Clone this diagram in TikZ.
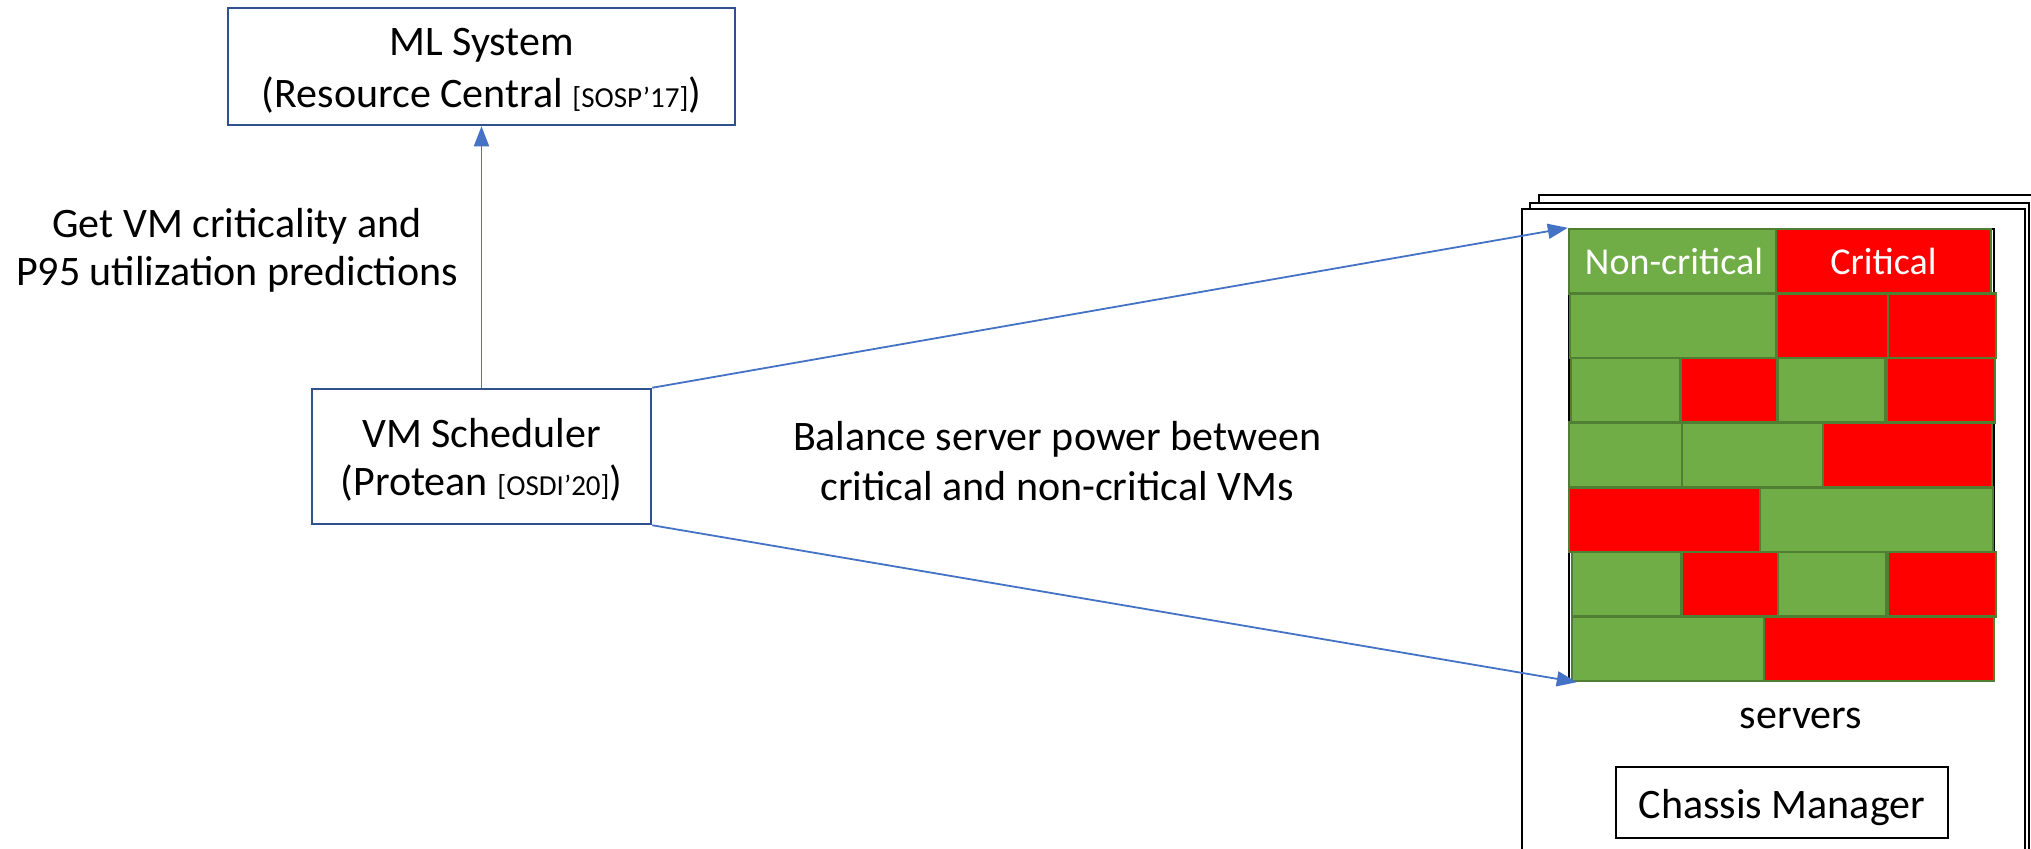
\documentclass[tikz,border=0pt]{standalone}
\usepackage{fontspec}
\setmainfont{Carlito}
\usetikzlibrary{arrows.meta}
\definecolor{arrowblue}{HTML}{4472C4}
\definecolor{boxblue}{HTML}{2F528F}
\definecolor{vmgreen}{HTML}{70AD47}
\definecolor{vmgreenline}{HTML}{507E32}
\definecolor{vmred}{HTML}{FF0000}
\begin{document}
\begin{tikzpicture}[x=0.5pt,y=-0.5pt,
  bigtext/.style={font=\fontsize{21}{25}\selectfont},
  sysbox/.style={draw=boxblue,line width=1.25pt,fill=white,inner sep=0pt},
  conn/.style={draw=arrowblue,line width=0.9pt,-{Triangle[length=10pt,width=7.5pt]}},
  frame/.style={draw=black,line width=1.15pt,fill=white},
  blk/.style={draw=vmgreenline,line width=1.3pt},
  vmlbl/.style={text=white,font=\fontsize{19}{22}\selectfont,inner sep=0pt},
  plain/.style={bigtext,align=center,inner sep=0pt}]
\useasboundingbox (0,0) rectangle (2031,848);
\clip (0,0) rectangle (2031,848);

% chassis frames
\draw[frame] (1539,195) rectangle (2045,900);
\draw[frame] (1530,203) rectangle (2029,900);
\draw[frame] (1522,209) rectangle (2025,900);

% boxes
\node[sysbox,minimum width=253.5pt,minimum height=58.5pt] (ml) at (481.5,66.5) {};
\node[plain,anchor=base,font=\fontsize{21}{26}\selectfont] (mltxt) at (481.5,107)
  {ML System\\(Resource Central {\fontsize{14.5}{26}\selectfont[SOSP’17]})};
\node[sysbox,minimum width=169.5pt,minimum height=67.5pt] (sched) at (481.5,456.5) {};
\node[plain,anchor=base,font=\fontsize{21}{24}\selectfont] (schedtxt) at (481.5,495)
  {VM Scheduler\\(Protean {\fontsize{14.5}{24}\selectfont[OSDI’20]})};

% labels
\node[plain,anchor=base,font=\fontsize{21}{24}\selectfont] (getlbl) at (237,285) {Get VM criticality and\\P95 utilization predictions};
\node[plain,anchor=base] (ballbl) at (1057,500) {Balance server power between\\critical and non-critical VMs};

% server grid
\node[draw=black,line width=1.2pt,inner sep=0pt,minimum width=212.5pt,minimum height=226pt] (grid) at (1781.5,455) {};
% row 1
\draw[blk,fill=vmgreen] (1569,229) rectangle (1776,293.6);
\draw[blk,fill=vmred]   (1776,229) rectangle (1991,293.6);
% row 2
\draw[blk,fill=vmgreen] (1570,293.6) rectangle (1776,358.1);
\draw[blk,fill=vmred]   (1777,293.6) rectangle (1888,358.1);
\draw[blk,fill=vmred]   (1888,293.6) rectangle (1996,358.1);
% row 3
\draw[blk,fill=vmgreen] (1571,358.1) rectangle (1680,422.7);
\draw[blk,fill=vmred]   (1681,358.1) rectangle (1777,422.7);
\draw[blk,fill=vmgreen] (1778,358.1) rectangle (1885,422.7);
\draw[blk,fill=vmred]   (1887,358.1) rectangle (1995,422.7);
% row 4
\draw[blk,fill=vmgreen] (1569,422.7) rectangle (1682,487.3);
\draw[blk,fill=vmgreen] (1682,422.7) rectangle (1823,487.3);
\draw[blk,fill=vmred]   (1823,422.7) rectangle (1992,487.3);
% row 5
\draw[blk,fill=vmred]   (1569,487.3) rectangle (1760,551.9);
\draw[blk,fill=vmgreen] (1760,487.3) rectangle (1993,551.9);
% row 6
\draw[blk,fill=vmgreen] (1572,551.9) rectangle (1681,616.4);
\draw[blk,fill=vmred]   (1682,551.9) rectangle (1778,616.4);
\draw[blk,fill=vmgreen] (1778,551.9) rectangle (1886,616.4);
\draw[blk,fill=vmred]   (1888,551.9) rectangle (1996,616.4);
% row 7
\draw[blk,fill=vmgreen] (1572,616.4) rectangle (1764,681);
\draw[blk,fill=vmred]   (1764,616.4) rectangle (1994,681);

\node[vmlbl] (noncrit) at (1674,261.3) {Non-critical};
\node[vmlbl] (crit) at (1883.5,261.3) {Critical};

\node[plain,anchor=base] (servers) at (1801,728) {servers};
\node[draw=black,line width=1pt,bigtext,inner sep=0pt,text height=17pt,text depth=1.5pt,minimum width=166pt,minimum height=35.5pt] (cm) at (1782,802.5) {Chassis Manager};

% connectors
\draw[conn] (sched.north) -- (ml.south);
\draw[conn] (sched.north east) -- (grid.north west);
\draw[conn] (sched.south east) -- ([xshift=4.5pt]grid.south west);
\end{tikzpicture}
\end{document}
